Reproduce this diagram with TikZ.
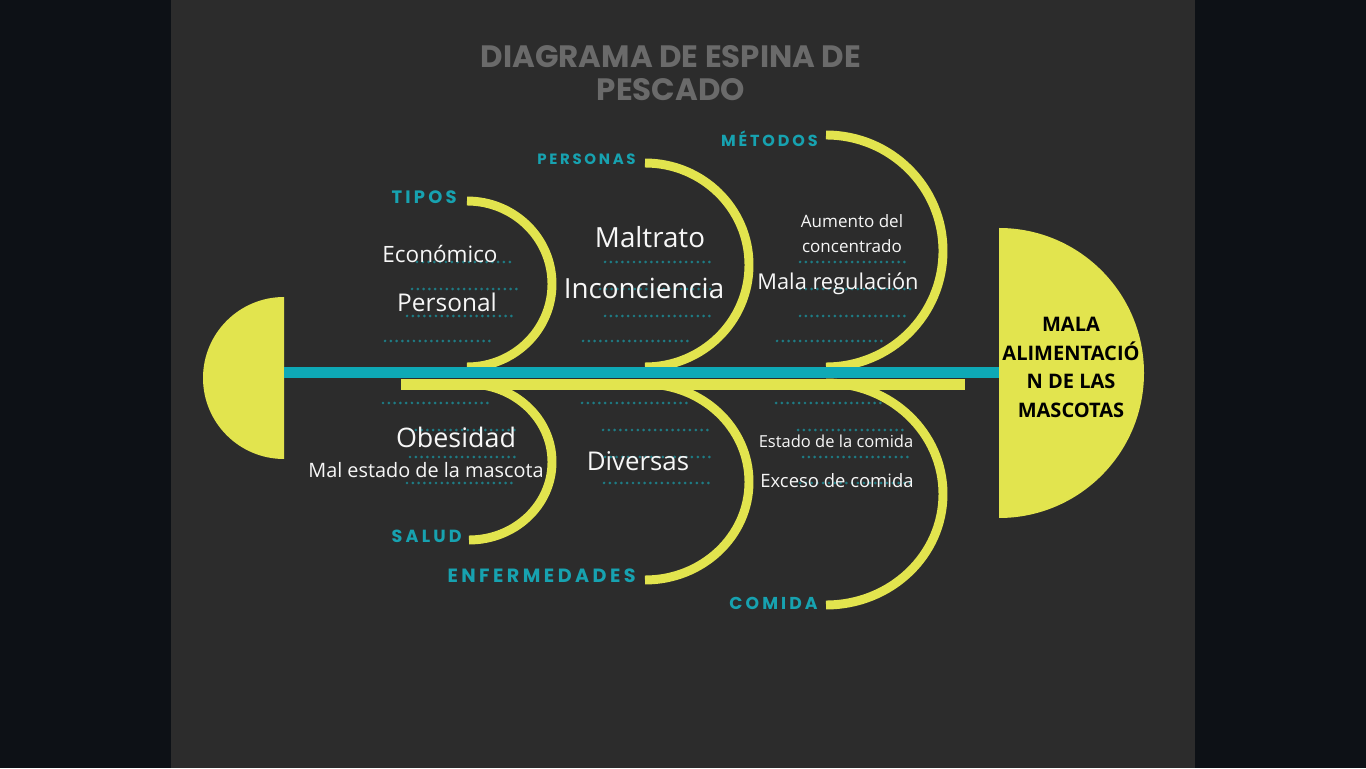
\documentclass[tikz,border=0pt]{standalone}
\usepackage{fontspec}
\setmainfont{Open Sans}
\newfontfamily\titlefont{Poppins}
\newfontfamily\catfont[LetterSpace=18]{Poppins}
\definecolor{outerbg}{HTML}{0D1116}
\definecolor{panelbg}{HTML}{2C2C2C}
\definecolor{fishyellow}{HTML}{E2E44E}
\definecolor{spineteal}{HTML}{0EA9B6}
\definecolor{labelteal}{HTML}{17A2B0}
\definecolor{dotteal}{HTML}{1E7C85}
\definecolor{titlegray}{HTML}{6A6A6A}
\newcommand{\fsz}[1]{\fontsize{#1}{1.2\dimexpr #1pt\relax}\selectfont}
\tikzset{
  bone/.style={draw=fishyellow, line width=5.1pt},
  dotrow/.style={draw=dotteal, line width=1.7pt, line cap=round, dash pattern=on 0pt off 3.3pt},
  cause/.style={text=white!94!gray, inner sep=0pt},
  category/.style={text=labelteal, anchor=east, inner sep=0pt},
}

\begin{document}
\begin{tikzpicture}[x=0.02cm, y=0.02cm]
% background
\fill[outerbg] (0,0) rectangle (1366,768);
\fill[panelbg] (171,0) rectangle (1195,768);
\useasboundingbox (0,0) rectangle (1366,768);

% tail
\fill[fishyellow] (284,471) arc[start angle=90, end angle=270, radius=81] -- cycle;

% dotted guide rows
\foreach \xa/\xb/\yy in {417/515/506, 412/520/479, 407/515/452, 385/492/427,
                         605/713/506, 600/715/479, 605/713/452, 583/690/427,
                         800/908/506, 800/913/479, 800/907/452, 777/885/427,
                         383/492/365, 410/515/338, 410/518/311, 407/515/285,
                         582/690/365, 603/712/338, 605/715/311, 604/713/285,
                         776/885/365, 798/907/338, 803/912/311, 800/912/285}
  \draw[dotrow] (\xa,\yy) -- (\xb,\yy);

% upper bones
\draw[bone] (467,567) arc[start angle=90, end angle=-90, x radius=85, y radius=83];
\draw[bone] (645,605) arc[start angle=90, end angle=-90, x radius=104, y radius=102];
\draw[bone] (826,633) arc[start angle=90, end angle=-90, x radius=117, y radius=116];
% lower bones
\draw[bone] (469,384) arc[start angle=90, end angle=-90, x radius=83, y radius=78];
\draw[bone] (645,384) arc[start angle=90, end angle=-90, x radius=104, y radius=98];
\draw[bone] (826,385) arc[start angle=90, end angle=-90, x radius=117, y radius=111];

% spine
\coordinate (tail) at (284,395.5);
\coordinate (head) at (1000,395.5);
\coordinate (barL) at (401,383.5);
\coordinate (barR) at (965,383.5);
\draw[fishyellow, line width=6.2pt] (barL) -- (barR);
\draw[spineteal, line width=6.3pt] (tail) -- (head);

% head
\fill[fishyellow] (999,540) arc[start angle=90, end angle=-90, radius=145] -- cycle;
\node (effect) at (1071,400.5) [align=center, text=black, font=\bfseries\fontsize{11.4}{16.2}\selectfont] {MALA\\ALIMENTACIÓ\\N DE LAS\\MASCOTAS};

% title
\node (title) at (671,694.5) [align=center, text=titlegray, font=\titlefont\bfseries\fontsize{17.6}{18.8}\selectfont] {DIAGRAMA DE ESPINA DE\\PESCADO};

% categories
\node[category, font=\catfont\bfseries\fsz{10.2}] (tipos) at (457,571) {TIPOS};
\node[category, font=\catfont\bfseries\fsz{8.5}] (personas) at (636,609) {PERSONAS};
\node[category, font=\catfont\bfseries\fsz{9.1}] (metodos) at (818,629) {MÉTODOS};
\node[category, font=\catfont\bfseries\fsz{10}] (salud) at (462,232) {SALUD};
\node[category, font=\catfont\bfseries\fsz{10.9}] (enfermedades) at (636,192) {ENFERMEDADES};
\node[category, font=\catfont\bfseries\fsz{9.8}] (comida) at (818,165) {COMIDA};

% causes
\node[cause, font=\fsz{12.8}] (economico) at (440,514) {Económico};
\node[cause, font=\fsz{13.9}] (personal) at (447,466) {Personal};
\node[cause, font=\fsz{15.8}] (maltrato) at (650,531) {Maltrato};
\node[cause, font=\fsz{15.8}] (inconciencia) at (644,480) {Inconciencia};
\node[cause, align=center, font=\fontsize{9.7}{14.2}\selectfont] (aumento) at (852,534.5) {Aumento del\\concentrado};
\node[cause, font=\fsz{12.4}] (regulacion) at (838,484) {Mala regulación};
\node[cause, font=\fsz{15.3}] (obesidad) at (456,331) {Obesidad};
\node[cause, font=\fsz{11.3}] (malestado) at (426,298) {Mal estado de la mascota};
\node[cause, font=\fsz{14.7}] (diversas) at (638,307) {Diversas};
\node[cause, font=\fsz{9.4}] (estado) at (836,327) {Estado de la comida};
\node[cause, font=\fsz{10.5}] (exceso) at (837,287) {Exceso de comida};
\end{tikzpicture}
\end{document}
